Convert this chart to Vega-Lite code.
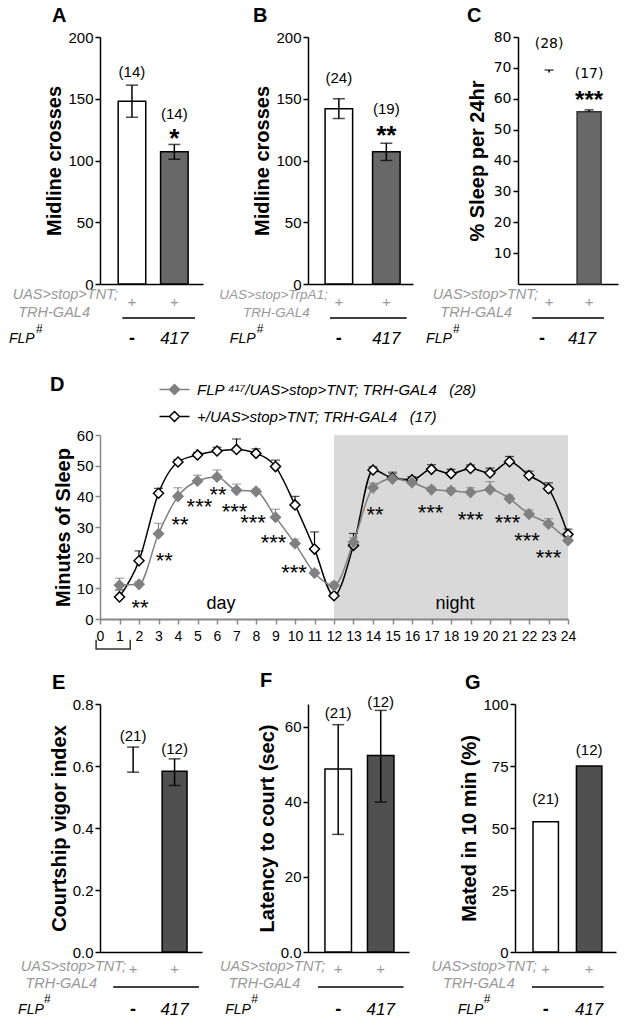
{
  "$schema": "https://vega.github.io/schema/vega-lite/v6.json",
  "padding": {"left": 8, "top": 6, "right": 4, "bottom": 4},
  "spacing": 18,
  "datasets": {
    "A": [{"g": "ctrl", "v": 148, "lo": 135, "hi": 161, "n": "(14)"}, {"g": "exp", "v": 107, "lo": 101, "hi": 113, "n": "(14)", "s": "*"}],
    "B": [{"g": "ctrl", "v": 142, "lo": 134, "hi": 150, "n": "(24)"}, {"g": "exp", "v": 107, "lo": 100, "hi": 114, "n": "(19)", "s": "**"}],
    "C": [{"g": "ctrl", "v": 68.5, "hi": 69.3, "n": "(28)"}, {"g": "exp", "v": 55.8, "hi": 56.4, "n": "(17)", "s": "***"}],
    "E": [{"g": "ctrl", "v": 0.62, "lo": 0.58, "hi": 0.661, "n": "(21)"}, {"g": "exp", "v": 0.583, "lo": 0.537, "hi": 0.623, "n": "(12)"}],
    "F": [{"g": "ctrl", "v": 48.7, "lo": 31.3, "hi": 60.5, "n": "(21)"}, {"g": "exp", "v": 52.3, "lo": 39.9, "hi": 64.3, "n": "(12)"}],
    "G": [{"g": "ctrl", "v": 52.5, "n": "(21)"}, {"g": "exp", "v": 75, "n": "(12)"}],
    "geno": [{"g": "ctrl", "f": "-"}, {"g": "exp", "f": "417"}],
    "D": [
      {"h": 1, "s": "ctrl", "v": 7.2, "hi": 9.5}, {"h": 2, "s": "ctrl", "v": 19, "hi": 22.2}, {"h": 3, "s": "ctrl", "v": 41, "hi": 42.6}, {"h": 4, "s": "ctrl", "v": 51.2, "hi": 52},
      {"h": 5, "s": "ctrl", "v": 53.5, "hi": 54.3}, {"h": 6, "s": "ctrl", "v": 54.8, "hi": 56}, {"h": 7, "s": "ctrl", "v": 55.3, "hi": 58.7}, {"h": 8, "s": "ctrl", "v": 54, "hi": 55.5},
      {"h": 9, "s": "ctrl", "v": 49.7, "hi": 51.8}, {"h": 10, "s": "ctrl", "v": 37.2, "hi": 40}, {"h": 11, "s": "ctrl", "v": 22.8, "hi": 28.4}, {"h": 12, "s": "ctrl", "v": 7.6, "hi": 8.4},
      {"h": 13, "s": "ctrl", "v": 24, "hi": 27.9}, {"h": 14, "s": "ctrl", "v": 48.6, "hi": 49.6}, {"h": 15, "s": "ctrl", "v": 46, "hi": 47.6}, {"h": 16, "s": "ctrl", "v": 45.4, "hi": 46.4},
      {"h": 17, "s": "ctrl", "v": 48.8, "hi": 50.3}, {"h": 18, "s": "ctrl", "v": 47.4, "hi": 48.8}, {"h": 19, "s": "ctrl", "v": 49.1, "hi": 50.2}, {"h": 20, "s": "ctrl", "v": 47.6, "hi": 49.2},
      {"h": 21, "s": "ctrl", "v": 51.3, "hi": 53}, {"h": 22, "s": "ctrl", "v": 46.8, "hi": 48.2}, {"h": 23, "s": "ctrl", "v": 42.5, "hi": 44.4}, {"h": 24, "s": "ctrl", "v": 27.6, "hi": 29.3},
      {"h": 1, "s": "flp", "v": 11, "hi": 13.3}, {"h": 2, "s": "flp", "v": 11.3, "hi": 12.2}, {"h": 3, "s": "flp", "v": 27.8, "hi": 31.2}, {"h": 4, "s": "flp", "v": 40, "hi": 42.8},
      {"h": 5, "s": "flp", "v": 45, "hi": 46.9}, {"h": 6, "s": "flp", "v": 46.3, "hi": 48.6}, {"h": 7, "s": "flp", "v": 42, "hi": 44}, {"h": 8, "s": "flp", "v": 41.6, "hi": 42.4},
      {"h": 9, "s": "flp", "v": 33.2, "hi": 35.8}, {"h": 10, "s": "flp", "v": 24.6, "hi": 26}, {"h": 11, "s": "flp", "v": 15, "hi": 16}, {"h": 12, "s": "flp", "v": 10.9, "hi": 12},
      {"h": 13, "s": "flp", "v": 25, "hi": 26.5}, {"h": 14, "s": "flp", "v": 42.8, "hi": 44.3}, {"h": 15, "s": "flp", "v": 45.7, "hi": 48}, {"h": 16, "s": "flp", "v": 44.5, "hi": 45.3},
      {"h": 17, "s": "flp", "v": 42.2, "hi": 43}, {"h": 18, "s": "flp", "v": 41.8, "hi": 42.7}, {"h": 19, "s": "flp", "v": 41.3, "hi": 42.8}, {"h": 20, "s": "flp", "v": 42.2, "hi": 44.8},
      {"h": 21, "s": "flp", "v": 39.2, "hi": 40.4}, {"h": 22, "s": "flp", "v": 34.2, "hi": 35.6}, {"h": 23, "s": "flp", "v": 31, "hi": 32.7}, {"h": 24, "s": "flp", "v": 25.6, "hi": 26.5}
    ],
    "Dstar": [
      {"h": 2.05, "y": 5.6, "t": "**"}, {"h": 3.3, "y": 20.9, "t": "**"}, {"h": 4.1, "y": 32.5, "t": "**"}, {"h": 5.1, "y": 38.4, "t": "***"},
      {"h": 6.05, "y": 42.4, "t": "**"}, {"h": 6.9, "y": 36.8, "t": "***"}, {"h": 7.85, "y": 33.4, "t": "***"}, {"h": 8.9, "y": 26.6, "t": "***"},
      {"h": 9.95, "y": 17, "t": "***"}, {"h": 14.1, "y": 35.8, "t": "**"}, {"h": 16.95, "y": 36.6, "t": "***"}, {"h": 19.0, "y": 34.2, "t": "***"},
      {"h": 20.9, "y": 33.4, "t": "***"}, {"h": 21.9, "y": 27.4, "t": "***"}, {"h": 23.0, "y": 21.9, "t": "***"}
    ]
  },
  "vconcat": [
    {
      "spacing": 27,
      "vconcat": [
        {
          "bounds": "flush",
          "spacing": 105,
          "hconcat": [
            {
              "width": 103, "height": 247, "data": {"name": "A"},
              "title": {"text": "A", "dx": -48},
              "encoding": {"x": {"field": "g", "type": "nominal", "scale": {"domain": ["ctrl", "exp"], "paddingInner": 0.35, "paddingOuter": 0.39, "align": 0.55}, "axis": {"title": null, "labels": false, "ticks": false}}},
              "resolve": {"scale": {"y": "independent"}},
              "layer": [
                {"layer": [
                  {"mark": {"type": "bar", "stroke": "black", "strokeWidth": 1.5}, "encoding": {"y": {"field": "v", "type": "quantitative", "scale": {"domain": [0, 200], "nice": false}, "axis": {"title": "Midline crosses", "values": [0, 50, 100, 150, 200], "tickCount": 30}}, "fill": {"condition": {"test": "datum.g==='ctrl'", "value": "white"}, "value": "#686868"}}},
                  {"mark": {"type": "rule", "strokeWidth": 1.5}, "encoding": {"y": {"field": "lo", "type": "quantitative"}, "y2": {"field": "hi"}}},
                  {"mark": {"type": "tick", "thickness": 1.5, "size": 12}, "encoding": {"y": {"field": "hi", "type": "quantitative"}}},
                  {"mark": {"type": "tick", "thickness": 1.5, "size": 12}, "encoding": {"y": {"field": "lo", "type": "quantitative"}}},
                  {"transform": [{"filter": "datum.g==='ctrl'"}], "mark": {"type": "text", "fontSize": 15, "baseline": "middle", "dy": -13}, "encoding": {"y": {"field": "hi", "type": "quantitative"}, "text": {"field": "n"}}},
                  {"transform": [{"filter": "datum.g==='exp'"}], "mark": {"type": "text", "fontSize": 15, "baseline": "middle", "dy": -30}, "encoding": {"y": {"field": "hi", "type": "quantitative"}, "text": {"field": "n"}}},
                  {"transform": [{"filter": "datum.g==='exp'"}], "mark": {"type": "text", "fontSize": 26, "fontWeight": "bold", "baseline": "middle", "dy": -5}, "encoding": {"y": {"field": "hi", "type": "quantitative"}, "text": {"field": "s"}}}
                ]},
                {"data": {"name": "geno"},
                 "encoding": {"y": {"datum": -18, "type": "quantitative", "scale": {"domain": [0, 247], "nice": false}, "axis": null}},
                 "layer": [
                  {"mark": {"type": "text", "text": "+", "fontSize": 15, "color": "#999", "baseline": "middle"}},
                  {"transform": [{"filter": "datum.g==='ctrl'"}], "mark": {"type": "text", "fontSize": 18, "fontWeight": "bold", "baseline": "middle"}, "encoding": {"y": {"datum": -55, "type": "quantitative"}, "text": {"field": "f"}}},
                  {"transform": [{"filter": "datum.g==='exp'"}], "mark": {"type": "text", "fontSize": 17, "fontStyle": "italic", "baseline": "middle"}, "encoding": {"y": {"datum": -55, "type": "quantitative"}, "text": {"field": "f"}}},
                  {"data": {"values": [{"t": "UAS>stop>TNT;"}]}, "mark": {"type": "text", "fontSize": 14.5, "fontStyle": "italic", "color": "#999", "align": "right", "dx": -14, "baseline": "middle"}, "encoding": {"x": {"datum": "ctrl", "type": "nominal"}, "y": {"datum": -11, "type": "quantitative"}, "text": {"field": "t"}}},
                  {"data": {"values": [{"t": "TRH-GAL4"}]}, "mark": {"type": "text", "fontSize": 14.5, "fontStyle": "italic", "color": "#999", "align": "right", "dx": -42, "baseline": "middle"}, "encoding": {"x": {"datum": "ctrl", "type": "nominal"}, "y": {"datum": -28.5, "type": "quantitative"}, "text": {"field": "t"}}},
                  {"data": {"values": [{"t": "FLP"}]}, "mark": {"type": "text", "fontSize": 14, "fontStyle": "italic", "align": "left", "dx": -123, "baseline": "middle"}, "encoding": {"x": {"datum": "ctrl", "type": "nominal"}, "y": {"datum": -55, "type": "quantitative"}, "text": {"field": "t"}}},
                  {"data": {"values": [{"t": "#"}]}, "mark": {"type": "text", "fontSize": 12, "align": "left", "dx": -96, "baseline": "middle"}, "encoding": {"x": {"datum": "ctrl", "type": "nominal"}, "y": {"datum": -45, "type": "quantitative"}, "text": {"field": "t"}}},
                  {"data": {"values": [{}]}, "mark": {"type": "rule", "strokeWidth": 1.5}, "encoding": {"x": {"datum": "ctrl", "type": "nominal", "bandPosition": 0.15}, "x2": {"datum": "exp", "bandPosition": 1.25}, "y": {"datum": -34, "type": "quantitative"}}}
                 ]}
              ]
            },
            {
              "width": 105, "height": 247, "data": {"name": "B"},
              "title": {"text": "B", "dx": -55},
              "encoding": {"x": {"field": "g", "type": "nominal", "scale": {"domain": ["ctrl", "exp"], "paddingInner": 0.42, "paddingOuter": 0.316, "align": 0.57}, "axis": {"title": null, "labels": false, "ticks": false}}},
              "resolve": {"scale": {"y": "independent"}},
              "layer": [
                {"layer": [
                  {"mark": {"type": "bar", "stroke": "black", "strokeWidth": 1.5}, "encoding": {"y": {"field": "v", "type": "quantitative", "scale": {"domain": [0, 200], "nice": false}, "axis": {"title": "Midline crosses", "values": [0, 50, 100, 150, 200], "tickCount": 30}}, "fill": {"condition": {"test": "datum.g==='ctrl'", "value": "white"}, "value": "#686868"}}},
                  {"mark": {"type": "rule", "strokeWidth": 1.5}, "encoding": {"y": {"field": "lo", "type": "quantitative"}, "y2": {"field": "hi"}}},
                  {"mark": {"type": "tick", "thickness": 1.5, "size": 12}, "encoding": {"y": {"field": "hi", "type": "quantitative"}}},
                  {"mark": {"type": "tick", "thickness": 1.5, "size": 12}, "encoding": {"y": {"field": "lo", "type": "quantitative"}}},
                  {"transform": [{"filter": "datum.g==='ctrl'"}], "mark": {"type": "text", "fontSize": 15, "baseline": "middle", "dy": -21}, "encoding": {"y": {"field": "hi", "type": "quantitative"}, "text": {"field": "n"}}},
                  {"transform": [{"filter": "datum.g==='exp'"}], "mark": {"type": "text", "fontSize": 15, "baseline": "middle", "dy": -34}, "encoding": {"y": {"field": "hi", "type": "quantitative"}, "text": {"field": "n"}}},
                  {"transform": [{"filter": "datum.g==='exp'"}], "mark": {"type": "text", "fontSize": 26, "fontWeight": "bold", "baseline": "middle", "dy": -7}, "encoding": {"y": {"field": "hi", "type": "quantitative"}, "text": {"field": "s"}}}
                ]},
                {"data": {"name": "geno"},
                 "encoding": {"y": {"datum": -18, "type": "quantitative", "scale": {"domain": [0, 247], "nice": false}, "axis": null}},
                 "layer": [
                  {"mark": {"type": "text", "text": "+", "fontSize": 15, "color": "#999", "baseline": "middle"}},
                  {"transform": [{"filter": "datum.g==='ctrl'"}], "mark": {"type": "text", "fontSize": 18, "fontWeight": "bold", "baseline": "middle"}, "encoding": {"y": {"datum": -55, "type": "quantitative"}, "text": {"field": "f"}}},
                  {"transform": [{"filter": "datum.g==='exp'"}], "mark": {"type": "text", "fontSize": 17, "fontStyle": "italic", "baseline": "middle"}, "encoding": {"y": {"datum": -55, "type": "quantitative"}, "text": {"field": "f"}}},
                  {"data": {"values": [{"t": "UAS>stop>TrpA1;"}]}, "mark": {"type": "text", "fontSize": 13.5, "fontStyle": "italic", "color": "#999", "align": "right", "dx": -11, "baseline": "middle"}, "encoding": {"x": {"datum": "ctrl", "type": "nominal"}, "y": {"datum": -11, "type": "quantitative"}, "text": {"field": "t"}}},
                  {"data": {"values": [{"t": "TRH-GAL4"}]}, "mark": {"type": "text", "fontSize": 13.5, "fontStyle": "italic", "color": "#999", "align": "right", "dx": -29, "baseline": "middle"}, "encoding": {"x": {"datum": "ctrl", "type": "nominal"}, "y": {"datum": -28.5, "type": "quantitative"}, "text": {"field": "t"}}},
                  {"data": {"values": [{"t": "FLP"}]}, "mark": {"type": "text", "fontSize": 14, "fontStyle": "italic", "align": "left", "dx": -109, "baseline": "middle"}, "encoding": {"x": {"datum": "ctrl", "type": "nominal"}, "y": {"datum": -55, "type": "quantitative"}, "text": {"field": "t"}}},
                  {"data": {"values": [{"t": "#"}]}, "mark": {"type": "text", "fontSize": 12, "align": "left", "dx": -82, "baseline": "middle"}, "encoding": {"x": {"datum": "ctrl", "type": "nominal"}, "y": {"datum": -45, "type": "quantitative"}, "text": {"field": "t"}}},
                  {"data": {"values": [{}]}, "mark": {"type": "rule", "strokeWidth": 1.5}, "encoding": {"x": {"datum": "ctrl", "type": "nominal", "bandPosition": 0.18}, "x2": {"datum": "exp", "bandPosition": 1.24}, "y": {"datum": -34, "type": "quantitative"}}}
                 ]}
              ]
            },
            {
              "width": 100, "height": 247, "data": {"name": "C"},
              "title": {"text": "C", "dx": -51},
              "encoding": {"x": {"field": "g", "type": "nominal", "scale": {"domain": ["ctrl", "exp"], "paddingInner": 0.4, "paddingOuter": 0.45, "align": 0.53}, "axis": {"title": null, "labels": false, "ticks": false}}},
              "resolve": {"scale": {"y": "independent"}},
              "layer": [
                {"layer": [
                  {"transform": [{"filter": "datum.g==='exp'"}], "mark": {"type": "bar", "stroke": "#333", "strokeWidth": 1.5, "fill": "#686868"}, "encoding": {"y": {"field": "v", "type": "quantitative", "scale": {"domain": [0, 80], "nice": false}, "axis": {"title": "% Sleep per 24hr", "values": [10, 20, 30, 40, 50, 60, 70, 80], "tickCount": 30, "labelFont": "DejaVu Sans", "labelFontSize": 14, "titlePadding": 6}}}},
                  {"mark": {"type": "rule", "strokeWidth": 1.5}, "encoding": {"y": {"field": "v", "type": "quantitative"}, "y2": {"field": "hi"}}},
                  {"mark": {"type": "tick", "thickness": 1.5, "size": 9}, "encoding": {"y": {"field": "hi", "type": "quantitative"}}},
                  {"transform": [{"filter": "datum.g==='ctrl'"}], "mark": {"type": "text", "font": "DejaVu Sans", "fontSize": 14, "baseline": "middle", "dy": -26}, "encoding": {"y": {"field": "hi", "type": "quantitative"}, "text": {"field": "n"}}},
                  {"transform": [{"filter": "datum.g==='exp'"}], "mark": {"type": "text", "font": "DejaVu Sans", "fontSize": 14, "baseline": "middle", "dy": -36}, "encoding": {"y": {"field": "hi", "type": "quantitative"}, "text": {"field": "n"}}},
                  {"transform": [{"filter": "datum.g==='exp'"}], "mark": {"type": "text", "fontSize": 24, "fontWeight": "bold", "baseline": "middle", "dy": -9}, "encoding": {"y": {"field": "hi", "type": "quantitative"}, "text": {"field": "s"}}}
                ]},
                {"data": {"name": "geno"},
                 "encoding": {"y": {"datum": -18, "type": "quantitative", "scale": {"domain": [0, 247], "nice": false}, "axis": null}},
                 "layer": [
                  {"mark": {"type": "text", "text": "+", "fontSize": 15, "color": "#999", "baseline": "middle"}},
                  {"transform": [{"filter": "datum.g==='ctrl'"}], "mark": {"type": "text", "fontSize": 18, "fontWeight": "bold", "baseline": "middle", "dx": -7}, "encoding": {"y": {"datum": -55, "type": "quantitative"}, "text": {"field": "f"}}},
                  {"transform": [{"filter": "datum.g==='exp'"}], "mark": {"type": "text", "fontSize": 17, "fontStyle": "italic", "baseline": "middle", "dx": -7}, "encoding": {"y": {"datum": -55, "type": "quantitative"}, "text": {"field": "f"}}},
                  {"data": {"values": [{"t": "UAS>stop>TNT;"}]}, "mark": {"type": "text", "fontSize": 14.5, "fontStyle": "italic", "color": "#999", "align": "right", "dx": -11, "baseline": "middle"}, "encoding": {"x": {"datum": "ctrl", "type": "nominal"}, "y": {"datum": -11, "type": "quantitative"}, "text": {"field": "t"}}},
                  {"data": {"values": [{"t": "TRH-GAL4"}]}, "mark": {"type": "text", "fontSize": 14.5, "fontStyle": "italic", "color": "#999", "align": "right", "dx": -37, "baseline": "middle"}, "encoding": {"x": {"datum": "ctrl", "type": "nominal"}, "y": {"datum": -28.5, "type": "quantitative"}, "text": {"field": "t"}}},
                  {"data": {"values": [{"t": "FLP"}]}, "mark": {"type": "text", "fontSize": 14, "fontStyle": "italic", "align": "left", "dx": -123, "baseline": "middle"}, "encoding": {"x": {"datum": "ctrl", "type": "nominal"}, "y": {"datum": -55, "type": "quantitative"}, "text": {"field": "t"}}},
                  {"data": {"values": [{"t": "#"}]}, "mark": {"type": "text", "fontSize": 12, "align": "left", "dx": -96, "baseline": "middle"}, "encoding": {"x": {"datum": "ctrl", "type": "nominal"}, "y": {"datum": -45, "type": "quantitative"}, "text": {"field": "t"}}},
                  {"data": {"values": [{}]}, "mark": {"type": "rule", "strokeWidth": 1.5}, "encoding": {"x": {"datum": "ctrl", "type": "nominal", "bandPosition": -0.2}, "x2": {"datum": "exp", "bandPosition": 1.12}, "y": {"datum": -34, "type": "quantitative"}}}
                 ]}
              ]
            }
          ]
        },
        {
          "width": 468, "height": 184,
          "title": {"text": "D", "dx": -50, "offset": 33},
          "layer": [
            {"data": {"values": [{}]}, "mark": {"type": "rect", "color": "#d9d9d9"},
             "encoding": {
               "x": {"datum": 12, "type": "quantitative", "scale": {"domain": [0, 24], "nice": false}, "axis": {"values": [0, 1, 2, 3, 4, 5, 6, 7, 8, 9, 10, 11, 12, 13, 14, 15, 16, 17, 18, 19, 20, 21, 22, 23, 24], "tickCount": 30, "title": null, "labelFontSize": 14, "domainColor": "#888", "tickColor": "#888", "domainWidth": 2, "labelPadding": 5, "labelFlush": false, "zindex": 1}},
               "x2": {"datum": 24},
               "y": {"datum": 0, "type": "quantitative", "scale": {"domain": [0, 60], "nice": false}, "axis": {"values": [0, 10, 20, 30, 40, 50, 60], "tickCount": 30, "title": "Minutes of Sleep", "domainColor": "#888", "tickColor": "#888"}},
               "y2": {"datum": 60}}},
            {"data": {"name": "D"}, "mark": {"type": "rule", "strokeWidth": 1.2}, "encoding": {"x": {"field": "h", "type": "quantitative"}, "y": {"field": "v", "type": "quantitative"}, "y2": {"field": "hi"}, "color": {"condition": {"test": "datum.s==='ctrl'", "value": "black"}, "value": "#808080"}}},
            {"data": {"name": "D"}, "mark": {"type": "tick", "orient": "horizontal", "size": 9, "thickness": 1.2}, "encoding": {"x": {"field": "h", "type": "quantitative"}, "y": {"field": "hi", "type": "quantitative"}, "color": {"condition": {"test": "datum.s==='ctrl'", "value": "black"}, "value": "#808080"}}},
            {"data": {"name": "D"}, "mark": {"type": "line", "interpolate": "monotone", "strokeWidth": 1.5},
             "encoding": {"x": {"field": "h", "type": "quantitative"}, "y": {"field": "v", "type": "quantitative"},
               "stroke": {"field": "s", "type": "nominal", "scale": {"domain": ["flp", "ctrl"], "range": ["#808080", "black"]},
                 "legend": {"title": null, "orient": "none", "legendX": 67, "legendY": 345, "symbolType": "M-3,0L-1,0M1,0L3,0M0,-1L1,0L0,1L-1,0Z", "symbolSize": 100, "symbolStrokeWidth": 1.5, "labelFontSize": 15, "labelFontStyle": "italic", "labelOffset": 15, "labelLimit": 400, "rowPadding": 10, "padding": 0,
                   "labelExpr": "datum.value==='flp' ? 'FLP ⁴¹⁷/UAS>stop>TNT; TRH-GAL4\u00a0\u00a0 (28)' : '+/UAS>stop>TNT; TRH-GAL4\u00a0\u00a0 (17)'"}}}},
            {"data": {"name": "D"}, "mark": {"type": "point", "shape": "diamond", "size": 100, "strokeWidth": 1.5, "opacity": 1, "filled": true},
             "encoding": {"x": {"field": "h", "type": "quantitative"}, "y": {"field": "v", "type": "quantitative"},
               "stroke": {"field": "s", "type": "nominal",
                 "legend": {"title": null, "orient": "none", "legendX": 67, "legendY": 345, "symbolType": "M-3,0L-1,0M1,0L3,0M0,-1L1,0L0,1L-1,0Z", "symbolSize": 100, "symbolStrokeWidth": 1.5, "labelFontSize": 15, "labelFontStyle": "italic", "labelOffset": 15, "labelLimit": 400, "rowPadding": 10, "padding": 0,
                   "labelExpr": "datum.value==='flp' ? 'FLP ⁴¹⁷/UAS>stop>TNT; TRH-GAL4\u00a0\u00a0 (28)' : '+/UAS>stop>TNT; TRH-GAL4\u00a0\u00a0 (17)'"}},
               "fill": {"field": "s", "type": "nominal", "scale": {"domain": ["flp", "ctrl"], "range": ["#808080", "white"]},
                 "legend": {"title": null, "orient": "none", "legendX": 67, "legendY": 345, "symbolType": "M-3,0L-1,0M1,0L3,0M0,-1L1,0L0,1L-1,0Z", "symbolSize": 100, "symbolStrokeWidth": 1.5, "labelFontSize": 15, "labelFontStyle": "italic", "labelOffset": 15, "labelLimit": 400, "rowPadding": 10, "padding": 0,
                   "labelExpr": "datum.value==='flp' ? 'FLP ⁴¹⁷/UAS>stop>TNT; TRH-GAL4\u00a0\u00a0 (28)' : '+/UAS>stop>TNT; TRH-GAL4\u00a0\u00a0 (17)'"}}}},
            {"data": {"name": "Dstar"}, "mark": {"type": "text", "fontSize": 22, "baseline": "middle", "dy": 6}, "encoding": {"x": {"field": "h", "type": "quantitative"}, "y": {"field": "y", "type": "quantitative"}, "text": {"field": "t"}}},
            {"data": {"values": [{"h": 6.2, "y": 4.9, "t": "day"}, {"h": 18.2, "y": 4.9, "t": "night"}]}, "mark": {"type": "text", "fontSize": 18, "baseline": "middle"}, "encoding": {"x": {"field": "h", "type": "quantitative"}, "y": {"field": "y", "type": "quantitative"}, "text": {"field": "t"}}},
            {"data": {"values": [{"x": -0.2, "y": -6.8, "o": 0}, {"x": -0.2, "y": -9.8, "o": 1}, {"x": 1.55, "y": -9.8, "o": 2}, {"x": 1.55, "y": -6.8, "o": 3}]}, "mark": {"type": "line", "strokeWidth": 1.5, "color": "#333"}, "encoding": {"x": {"field": "x", "type": "quantitative"}, "y": {"field": "y", "type": "quantitative"}, "order": {"field": "o"}}}
          ]
        }
      ]
    },
    {
      "bounds": "flush",
      "spacing": 106,
      "hconcat": [
        {
          "width": 102, "height": 248, "data": {"name": "E"},
          "title": {"text": "E", "dx": -48},
          "encoding": {"x": {"field": "g", "type": "nominal", "scale": {"domain": ["ctrl", "exp"], "paddingInner": 0.4, "paddingOuter": 0.43, "align": 0.58}, "axis": {"title": null, "labels": false, "ticks": false}}},
          "resolve": {"scale": {"y": "independent"}},
          "layer": [
            {"layer": [
              {"transform": [{"filter": "datum.g==='exp'"}], "mark": {"type": "bar", "stroke": "black", "strokeWidth": 1.5, "fill": "#505050"}, "encoding": {"y": {"field": "v", "type": "quantitative", "scale": {"domain": [0, 0.8], "nice": false}, "axis": {"title": "Courtship vigor index", "values": [0, 0.2, 0.4, 0.6, 0.8], "tickCount": 30, "format": ".1f"}}}},
              {"mark": {"type": "rule", "strokeWidth": 1.5}, "encoding": {"y": {"field": "lo", "type": "quantitative"}, "y2": {"field": "hi"}}},
              {"mark": {"type": "tick", "thickness": 1.5, "size": 12}, "encoding": {"y": {"field": "hi", "type": "quantitative"}}},
              {"mark": {"type": "tick", "thickness": 1.5, "size": 12}, "encoding": {"y": {"field": "lo", "type": "quantitative"}}},
              {"transform": [{"filter": "datum.g==='ctrl'"}], "mark": {"type": "text", "fontSize": 15, "baseline": "middle", "dy": -11}, "encoding": {"y": {"field": "hi", "type": "quantitative"}, "text": {"field": "n"}}},
              {"transform": [{"filter": "datum.g==='exp'"}], "mark": {"type": "text", "fontSize": 15, "baseline": "middle", "dy": -10}, "encoding": {"y": {"field": "hi", "type": "quantitative"}, "text": {"field": "n"}}}
            ]},
            {"data": {"name": "geno"},
             "encoding": {"y": {"datum": -17, "type": "quantitative", "scale": {"domain": [0, 248], "nice": false}, "axis": null}},
             "layer": [
              {"mark": {"type": "text", "text": "+", "fontSize": 15, "color": "#999", "baseline": "middle"}},
              {"transform": [{"filter": "datum.g==='ctrl'"}], "mark": {"type": "text", "fontSize": 18, "fontWeight": "bold", "baseline": "middle"}, "encoding": {"y": {"datum": -58, "type": "quantitative"}, "text": {"field": "f"}}},
              {"transform": [{"filter": "datum.g==='exp'"}], "mark": {"type": "text", "fontSize": 17, "fontStyle": "italic", "baseline": "middle"}, "encoding": {"y": {"datum": -58, "type": "quantitative"}, "text": {"field": "f"}}},
              {"data": {"values": [{"t": "UAS>stop>TNT;"}]}, "mark": {"type": "text", "fontSize": 14.5, "fontStyle": "italic", "color": "#999", "align": "right", "dx": -7, "baseline": "middle"}, "encoding": {"x": {"datum": "ctrl", "type": "nominal"}, "y": {"datum": -15, "type": "quantitative"}, "text": {"field": "t"}}},
              {"data": {"values": [{"t": "TRH-GAL4"}]}, "mark": {"type": "text", "fontSize": 14.5, "fontStyle": "italic", "color": "#999", "align": "right", "dx": -36, "baseline": "middle"}, "encoding": {"x": {"datum": "ctrl", "type": "nominal"}, "y": {"datum": -32, "type": "quantitative"}, "text": {"field": "t"}}},
              {"data": {"values": [{"t": "FLP"}]}, "mark": {"type": "text", "fontSize": 14, "fontStyle": "italic", "align": "left", "dx": -115, "baseline": "middle"}, "encoding": {"x": {"datum": "ctrl", "type": "nominal"}, "y": {"datum": -58, "type": "quantitative"}, "text": {"field": "t"}}},
              {"data": {"values": [{"t": "#"}]}, "mark": {"type": "text", "fontSize": 12, "align": "left", "dx": -89, "baseline": "middle"}, "encoding": {"x": {"datum": "ctrl", "type": "nominal"}, "y": {"datum": -47, "type": "quantitative"}, "text": {"field": "t"}}},
              {"data": {"values": [{}]}, "mark": {"type": "rule", "strokeWidth": 1.5}, "encoding": {"x": {"datum": "ctrl", "type": "nominal", "bandPosition": -0.3}, "x2": {"datum": "exp", "bandPosition": 1.48}, "y": {"datum": -35, "type": "quantitative"}}}
             ]}
          ]
        },
        {
          "width": 101, "height": 248, "data": {"name": "F"},
          "title": {"text": "F", "dx": -48},
          "encoding": {"x": {"field": "g", "type": "nominal", "scale": {"domain": ["ctrl", "exp"], "paddingInner": 0.376, "paddingOuter": 0.376, "align": 0.53}, "axis": {"title": null, "labels": false, "ticks": false}}},
          "resolve": {"scale": {"y": "independent"}},
          "layer": [
            {"layer": [
              {"mark": {"type": "bar", "stroke": "black", "strokeWidth": 1.5}, "encoding": {"y": {"field": "v", "type": "quantitative", "scale": {"domain": [0, 66], "nice": false}, "axis": {"title": "Latency to court (sec)", "values": [0, 20, 40, 60], "tickCount": 30, "labelExpr": "datum.value===0 ? '0.0' : datum.label"}}, "fill": {"condition": {"test": "datum.g==='ctrl'", "value": "white"}, "value": "#505050"}}},
              {"mark": {"type": "rule", "strokeWidth": 1.5}, "encoding": {"y": {"field": "lo", "type": "quantitative"}, "y2": {"field": "hi"}}},
              {"mark": {"type": "tick", "thickness": 1.5, "size": 12}, "encoding": {"y": {"field": "hi", "type": "quantitative"}}},
              {"mark": {"type": "tick", "thickness": 1.5, "size": 12}, "encoding": {"y": {"field": "lo", "type": "quantitative"}}},
              {"transform": [{"filter": "datum.g==='ctrl'"}], "mark": {"type": "text", "fontSize": 15, "baseline": "middle", "dy": -12}, "encoding": {"y": {"field": "hi", "type": "quantitative"}, "text": {"field": "n"}}},
              {"transform": [{"filter": "datum.g==='exp'"}], "mark": {"type": "text", "fontSize": 15, "baseline": "middle", "dy": -8}, "encoding": {"y": {"field": "hi", "type": "quantitative"}, "text": {"field": "n"}}}
            ]},
            {"data": {"name": "geno"},
             "encoding": {"y": {"datum": -17, "type": "quantitative", "scale": {"domain": [0, 248], "nice": false}, "axis": null}},
             "layer": [
              {"mark": {"type": "text", "text": "+", "fontSize": 15, "color": "#999", "baseline": "middle"}},
              {"transform": [{"filter": "datum.g==='ctrl'"}], "mark": {"type": "text", "fontSize": 18, "fontWeight": "bold", "baseline": "middle"}, "encoding": {"y": {"datum": -58, "type": "quantitative"}, "text": {"field": "f"}}},
              {"transform": [{"filter": "datum.g==='exp'"}], "mark": {"type": "text", "fontSize": 17, "fontStyle": "italic", "baseline": "middle"}, "encoding": {"y": {"datum": -58, "type": "quantitative"}, "text": {"field": "f"}}},
              {"data": {"values": [{"t": "UAS>stop>TNT;"}]}, "mark": {"type": "text", "fontSize": 14.5, "fontStyle": "italic", "color": "#999", "align": "right", "dx": -13, "baseline": "middle"}, "encoding": {"x": {"datum": "ctrl", "type": "nominal"}, "y": {"datum": -15, "type": "quantitative"}, "text": {"field": "t"}}},
              {"data": {"values": [{"t": "TRH-GAL4"}]}, "mark": {"type": "text", "fontSize": 14.5, "fontStyle": "italic", "color": "#999", "align": "right", "dx": -38, "baseline": "middle"}, "encoding": {"x": {"datum": "ctrl", "type": "nominal"}, "y": {"datum": -32, "type": "quantitative"}, "text": {"field": "t"}}},
              {"data": {"values": [{"t": "FLP"}]}, "mark": {"type": "text", "fontSize": 14, "fontStyle": "italic", "align": "left", "dx": -113, "baseline": "middle"}, "encoding": {"x": {"datum": "ctrl", "type": "nominal"}, "y": {"datum": -58, "type": "quantitative"}, "text": {"field": "t"}}},
              {"data": {"values": [{"t": "#"}]}, "mark": {"type": "text", "fontSize": 12, "align": "left", "dx": -87, "baseline": "middle"}, "encoding": {"x": {"datum": "ctrl", "type": "nominal"}, "y": {"datum": -47, "type": "quantitative"}, "text": {"field": "t"}}},
              {"data": {"values": [{}]}, "mark": {"type": "rule", "strokeWidth": 1.5}, "encoding": {"x": {"datum": "ctrl", "type": "nominal", "bandPosition": -0.26}, "x2": {"datum": "exp", "bandPosition": 1.36}, "y": {"datum": -35, "type": "quantitative"}}}
             ]}
          ]
        },
        {
          "width": 101, "height": 248, "data": {"name": "G"},
          "title": {"text": "G", "dx": -50},
          "encoding": {"x": {"field": "g", "type": "nominal", "scale": {"domain": ["ctrl", "exp"], "paddingInner": 0.414, "paddingOuter": 0.37, "align": 0.56}, "axis": {"title": null, "labels": false, "ticks": false}}},
          "resolve": {"scale": {"y": "independent"}},
          "layer": [
            {"layer": [
              {"mark": {"type": "bar", "stroke": "black", "strokeWidth": 1.5}, "encoding": {"y": {"field": "v", "type": "quantitative", "scale": {"domain": [0, 100], "nice": false}, "axis": {"title": "Mated in 10 min (%)", "values": [0, 25, 50, 75, 100], "tickCount": 30}}, "fill": {"condition": {"test": "datum.g==='ctrl'", "value": "white"}, "value": "#505050"}}},
              {"transform": [{"filter": "datum.g==='ctrl'"}], "mark": {"type": "text", "fontSize": 15, "baseline": "middle", "dy": -23}, "encoding": {"y": {"field": "v", "type": "quantitative"}, "text": {"field": "n"}}},
              {"transform": [{"filter": "datum.g==='exp'"}], "mark": {"type": "text", "fontSize": 15, "baseline": "middle", "dy": -16}, "encoding": {"y": {"field": "v", "type": "quantitative"}, "text": {"field": "n"}}}
            ]},
            {"data": {"name": "geno"},
             "encoding": {"y": {"datum": -17, "type": "quantitative", "scale": {"domain": [0, 248], "nice": false}, "axis": null}},
             "layer": [
              {"mark": {"type": "text", "text": "+", "fontSize": 15, "color": "#999", "baseline": "middle"}},
              {"transform": [{"filter": "datum.g==='ctrl'"}], "mark": {"type": "text", "fontSize": 18, "fontWeight": "bold", "baseline": "middle"}, "encoding": {"y": {"datum": -58, "type": "quantitative"}, "text": {"field": "f"}}},
              {"transform": [{"filter": "datum.g==='exp'"}], "mark": {"type": "text", "fontSize": 17, "fontStyle": "italic", "baseline": "middle"}, "encoding": {"y": {"datum": -58, "type": "quantitative"}, "text": {"field": "f"}}},
              {"data": {"values": [{"t": "UAS>stop>TNT;"}]}, "mark": {"type": "text", "fontSize": 14.5, "fontStyle": "italic", "color": "#999", "align": "right", "dx": -9, "baseline": "middle"}, "encoding": {"x": {"datum": "ctrl", "type": "nominal"}, "y": {"datum": -15, "type": "quantitative"}, "text": {"field": "t"}}},
              {"data": {"values": [{"t": "TRH-GAL4"}]}, "mark": {"type": "text", "fontSize": 14.5, "fontStyle": "italic", "color": "#999", "align": "right", "dx": -31, "baseline": "middle"}, "encoding": {"x": {"datum": "ctrl", "type": "nominal"}, "y": {"datum": -32, "type": "quantitative"}, "text": {"field": "t"}}},
              {"data": {"values": [{"t": "FLP"}]}, "mark": {"type": "text", "fontSize": 14, "fontStyle": "italic", "align": "left", "dx": -88, "baseline": "middle"}, "encoding": {"x": {"datum": "ctrl", "type": "nominal"}, "y": {"datum": -58, "type": "quantitative"}, "text": {"field": "t"}}},
              {"data": {"values": [{"t": "#"}]}, "mark": {"type": "text", "fontSize": 12, "align": "left", "dx": -62, "baseline": "middle"}, "encoding": {"x": {"datum": "ctrl", "type": "nominal"}, "y": {"datum": -47, "type": "quantitative"}, "text": {"field": "t"}}},
              {"data": {"values": [{}]}, "mark": {"type": "rule", "strokeWidth": 1.5}, "encoding": {"x": {"datum": "ctrl", "type": "nominal", "bandPosition": -0.04}, "x2": {"datum": "exp", "bandPosition": 1.07}, "y": {"datum": -35, "type": "quantitative"}}}
             ]}
          ]
        }
      ]
    }
  ],
  "config": {
    "font": "Liberation Sans",
    "view": {"stroke": null},
    "mark": {"color": "black"},
    "axis": {"grid": false, "domainColor": "black", "tickColor": "black", "domainWidth": 1.5, "tickWidth": 1.5, "tickSize": 5, "labelFontSize": 15, "labelColor": "black", "titleFontSize": 20, "titleFontWeight": "bold", "titleColor": "black", "titlePadding": 3, "labelPadding": 2, "labelOverlap": false},
    "title": {"fontSize": 20, "fontWeight": "bold", "anchor": "start", "frame": "group", "offset": 0, "color": "black"}
  }
}
